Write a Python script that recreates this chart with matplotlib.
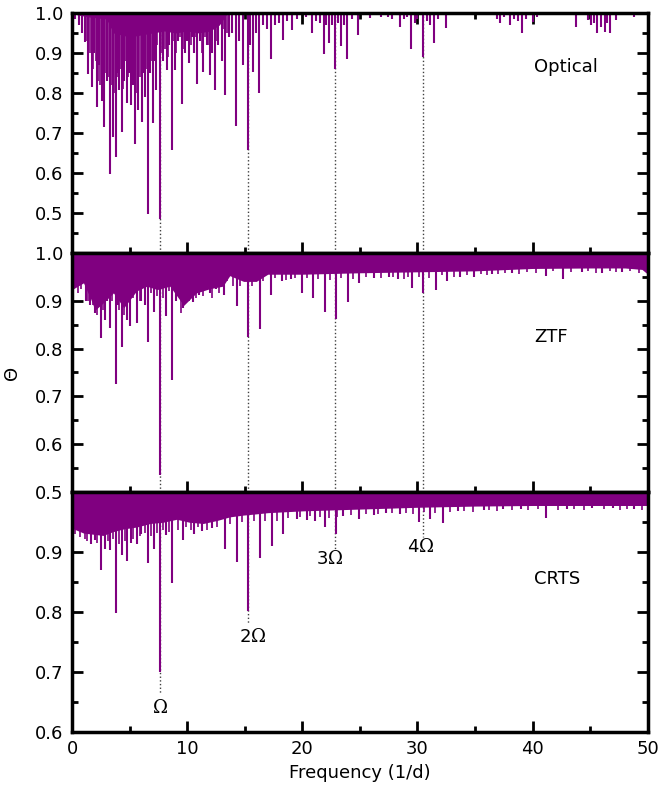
import matplotlib
matplotlib.use("Agg")
import matplotlib.pyplot as plt
from matplotlib.ticker import MultipleLocator

PURPLE = "#800080"

# PDM theta statistic: solid band edge (freq, theta), deep dips and small dips
opt_band_f = [0.0, 0.5, 1.5, 3.0, 3.6, 5.0, 7.0, 8.0, 9.0, 10.0, 11.0, 12.0, 12.8, 13.5, 50.0]
opt_band_t = [1.0, 0.995, 0.99, 0.985, 0.95, 0.94, 0.95, 0.955, 0.95, 0.955, 0.95, 0.955, 0.97, 1.0, 1.0]
opt_dip_f = [0.3, 0.6, 0.9, 1.13, 1.42, 1.71, 1.95, 2.14, 2.35, 2.57, 2.81, 3.05, 3.30, 3.53, 3.79,
             3.95, 4.11, 4.37, 4.55, 4.75, 4.92, 5.09, 5.3, 5.5, 5.76, 6.05, 6.2, 6.34, 6.63, 6.8,
             7.0, 7.15, 7.29, 7.6, 7.93, 8.22, 8.45, 8.65, 8.94, 9.2, 9.52, 9.81, 10.0, 10.18, 10.4,
             10.59, 10.88, 11.1, 11.4, 11.7, 11.98, 12.2, 12.41, 12.7, 13.0, 13.28, 13.6, 13.9, 14.24,
             14.5, 14.87, 15.25, 15.5, 15.74, 16.0, 16.26, 16.6, 16.9, 17.27, 17.6, 18.0, 18.34, 18.7,
             19.07, 19.5, 20.3, 20.8, 21.2, 21.5, 21.85, 22.1, 22.34, 22.6, 22.85, 23.1, 23.35, 23.6,
             23.9, 24.3, 24.8, 25.87, 26.8, 27.4, 27.8, 28.47, 28.8, 29.1, 29.4, 29.8, 30.0, 30.47,
             30.8, 31.1, 31.45, 31.8, 32.45, 33.5, 36.9, 37.15, 37.5, 38.08, 38.4, 38.7, 39.06, 39.4,
             40.05, 40.4, 41.5, 43.75, 44.82, 45.1, 45.3, 45.6, 45.9, 46.27, 46.5, 46.7, 47.2, 48.8]
opt_dip_t = [0.985, 0.97, 0.95, 0.928, 0.848, 0.815, 0.9, 0.765, 0.87, 0.78, 0.714, 0.83, 0.597, 0.689, 0.639,
             0.85, 0.806, 0.702, 0.83, 0.774, 0.85, 0.769, 0.82, 0.673, 0.756, 0.727, 0.85, 0.79, 0.497, 0.85,
             0.724, 0.88, 0.806, 0.484, 0.88, 0.857, 0.92, 0.656, 0.857, 0.93, 0.773, 0.899, 0.93, 0.874, 0.94,
             0.899, 0.823, 0.93, 0.853, 0.92, 0.844, 0.9, 0.806, 0.92, 0.88, 0.794, 0.94, 0.95, 0.716,
             0.93, 0.869, 0.656, 0.92, 0.853, 0.95, 0.80, 0.97, 0.96, 0.886, 0.97, 0.975, 0.932, 0.98,
             0.957, 0.985, 0.99, 0.95, 0.98, 0.975, 0.897, 0.97, 0.924, 0.97, 0.861, 0.975, 0.918, 0.97,
             0.886, 0.985, 0.945, 0.987, 0.99, 0.99, 0.985, 0.964, 0.985, 0.99, 0.911, 0.975, 0.985, 0.891,
             0.98, 0.97, 0.924, 0.985, 0.962, 0.995, 0.985, 0.974, 0.99, 0.97, 0.985, 0.98, 0.949, 0.985,
             0.978, 0.99, 0.995, 0.964, 0.982, 0.97, 0.975, 0.949, 0.965, 0.953, 0.975, 0.949, 0.982, 0.991]
opt_small_f = [1.3, 1.55, 1.85, 2.05, 2.25, 2.45, 2.7, 2.95, 3.2, 3.42, 3.68, 3.87, 4.03, 4.24, 4.47,
               4.65, 4.84, 5.0, 5.2, 5.4, 5.62, 5.9, 6.12, 6.45, 6.72, 6.9, 7.4, 7.75, 8.1, 8.33,
               8.8, 9.05, 9.35, 9.66, 10.3, 10.75, 11.25, 11.55, 11.85, 12.1, 12.55, 13.15, 13.45]
opt_small_t = [0.93, 0.9, 0.86, 0.88, 0.83, 0.82, 0.86, 0.85, 0.84, 0.82, 0.8, 0.87, 0.84, 0.86, 0.81,
               0.88, 0.84, 0.86, 0.82, 0.86, 0.8, 0.84, 0.88, 0.86, 0.9, 0.88, 0.92, 0.9, 0.91, 0.89,
               0.93, 0.9, 0.94, 0.91, 0.92, 0.94, 0.9, 0.94, 0.92, 0.94, 0.93, 0.96, 0.95]

ztf_band_f = [0.0, 1.0, 1.6, 2.0, 2.7, 3.6, 4.5, 5.6, 6.5, 7.4, 8.5, 9.7, 10.8, 12.0, 13.1, 13.7, 14.9,
              16.0, 17.0, 20.0, 25.0, 30.0, 35.0, 40.0, 45.0, 48.0, 49.5, 50.0]
ztf_band_t = [0.923, 0.937, 0.905, 0.88, 0.895, 0.916, 0.885, 0.92, 0.93, 0.923, 0.93, 0.89, 0.916, 0.925,
              0.93, 0.952, 0.94, 0.94, 0.955, 0.955, 0.958, 0.96, 0.962, 0.967, 0.968, 0.968, 0.965, 0.955]
ztf_dip_f = [1.2, 1.6, 2.0, 2.49, 2.86, 3.0, 3.3, 3.82, 4.0, 4.31, 4.75, 5.0, 5.61, 6.0, 6.3, 6.63,
             7.12, 7.625, 8.16, 8.65, 9.0, 9.3, 9.66, 10.0, 10.53, 11.05, 11.98, 12.5, 13.22, 14.29,
             15.3, 16.3, 17.25, 18.2, 19.0, 19.94, 20.95, 21.96, 22.9, 23.93, 24.94, 26.2, 27.5,
             28.3, 29.57, 30.5, 31.6, 32.6, 33.7, 34.9, 36.5, 38.2, 41.2, 42.6, 44.3, 46.0, 47.8]
ztf_dip_t = [0.9, 0.89, 0.874, 0.821, 0.86, 0.9, 0.842, 0.727, 0.89, 0.804, 0.86, 0.846, 0.853, 0.9, 0.89, 0.814,
             0.877, 0.536, 0.867, 0.734, 0.9, 0.91, 0.885, 0.91, 0.898, 0.912, 0.916, 0.925, 0.912, 0.888,
             0.825, 0.84, 0.912, 0.94, 0.945, 0.916, 0.905, 0.877, 0.861, 0.898, 0.937, 0.948, 0.95,
             0.945, 0.926, 0.916, 0.923, 0.94, 0.95, 0.949, 0.955, 0.958, 0.952, 0.945, 0.96, 0.958, 0.96]
ztf_small_f = [0.5, 0.8, 1.4, 1.8, 2.2, 2.7, 3.5, 4.1, 4.5, 5.3, 5.9, 6.9, 7.4, 7.9, 8.4, 9.5, 10.2,
               10.8, 11.4, 12.2, 12.8, 13.5, 14.0, 14.6, 15.6, 16.6, 17.6, 18.6, 19.4, 20.4, 21.4, 22.4,
               23.4, 24.4, 25.5, 26.8, 27.9, 28.8, 29.2, 30.1, 31.0, 32.1, 33.2, 34.3, 35.5, 36.0, 37.0,
               37.6, 38.8, 39.5, 40.3, 41.8, 43.3, 44.8, 45.5, 46.7, 47.2, 48.5, 49.2]
ztf_small_t = [0.915, 0.925, 0.9, 0.89, 0.87, 0.88, 0.9, 0.88, 0.87, 0.905, 0.9, 0.915, 0.91, 0.905, 0.92, 0.875, 0.9,
               0.905, 0.91, 0.905, 0.915, 0.94, 0.93, 0.93, 0.93, 0.94, 0.948, 0.943, 0.948, 0.947, 0.945, 0.942,
               0.948, 0.945, 0.95, 0.947, 0.95, 0.946, 0.95, 0.95, 0.947, 0.953, 0.95, 0.953, 0.956, 0.953, 0.956,
               0.958, 0.955, 0.96, 0.958, 0.961, 0.96, 0.961, 0.958, 0.961, 0.96, 0.961, 0.957]

crts_band_f = [0.0, 1.0, 2.7, 3.5, 4.5, 5.6, 6.8, 7.9, 9.1, 10.2, 11.4, 12.6, 13.7, 14.9, 16.0, 17.0,
               20.0, 25.0, 30.0, 35.0, 40.0, 50.0]
crts_band_t = [0.94, 0.932, 0.928, 0.934, 0.939, 0.942, 0.948, 0.95, 0.955, 0.95, 0.948, 0.953, 0.959,
               0.962, 0.964, 0.966, 0.969, 0.972, 0.975, 0.977, 0.978, 0.978]
crts_dip_f = [1.62, 2.0, 2.49, 2.86, 3.3, 3.82, 4.34, 4.80, 5.1, 5.61, 6.0, 6.63, 7.12, 7.625, 8.13,
              8.65, 9.61, 10.62, 11.3, 12.2, 13.28, 14.29, 15.25, 16.32, 17.33, 18.29, 19.5, 20.37,
              21.1, 21.96, 22.9, 23.5, 24.94, 26.2, 27.3, 28.5, 30.1, 31.08, 32.23, 33.5, 35.8, 37.4,
              39.0, 41.15, 43.0, 45.2, 47.0, 48.8]
crts_dip_t = [0.914, 0.92, 0.871, 0.906, 0.903, 0.799, 0.895, 0.885, 0.915, 0.914, 0.93, 0.882, 0.906, 0.70, 0.928,
              0.848, 0.92, 0.931, 0.935, 0.94, 0.906, 0.884, 0.802, 0.891, 0.91, 0.931, 0.955, 0.953,
              0.952, 0.942, 0.931, 0.96, 0.956, 0.962, 0.965, 0.963, 0.951, 0.956, 0.948, 0.968, 0.97, 0.972,
              0.972, 0.957, 0.972, 0.973, 0.973, 0.972]
crts_small_f = [0.3, 0.7, 1.1, 1.3, 2.2, 3.1, 3.6, 4.1, 4.6, 5.3, 5.9, 6.3, 6.9, 7.4, 7.9, 8.4, 9.2,
                9.9, 10.3, 10.9, 11.7, 12.6, 13.7, 14.8, 15.8, 16.8, 17.8, 18.8, 19.8, 20.7, 21.5, 22.3,
                23.0, 24.2, 25.5, 26.6, 27.8, 29.0, 29.6, 30.6, 31.5, 32.8, 34.0, 34.8, 36.2, 36.9, 38.2,
                39.6, 40.5, 42.2, 43.6, 44.5, 46.2, 47.6, 48.2, 49.5]
crts_small_t = [0.93, 0.926, 0.922, 0.918, 0.916, 0.918, 0.922, 0.913, 0.918, 0.922, 0.927, 0.932, 0.927, 0.932,
                0.937, 0.933, 0.937, 0.942, 0.937, 0.942, 0.937, 0.942, 0.947, 0.95, 0.952, 0.952, 0.952,
                0.957, 0.959, 0.96, 0.959, 0.957, 0.959, 0.962, 0.963, 0.964, 0.965, 0.965, 0.963, 0.967,
                0.965, 0.967, 0.969, 0.967, 0.97, 0.969, 0.971, 0.97, 0.972, 0.971, 0.972, 0.971, 0.972,
                0.971, 0.972, 0.971]

harm_f = [7.625, 15.25, 22.875, 30.5]
harm_labels = [r"$\Omega$", r"2$\Omega$", r"3$\Omega$", r"4$\Omega$"]
harm_label_x = [7.6, 15.7, 22.35, 30.3]
harm_label_y = [0.64, 0.759, 0.889, 0.909]
harm_line_end = [0.665, 0.78, 0.905, 0.925]

panels = [
    ("Optical", opt_band_f, opt_band_t, opt_dip_f, opt_dip_t, opt_small_f, opt_small_t,
     (0.4, 1.0), [0.5, 0.6, 0.7, 0.8, 0.9, 1.0], 0.865),
    ("ZTF", ztf_band_f, ztf_band_t, ztf_dip_f, ztf_dip_t, ztf_small_f, ztf_small_t,
     (0.5, 1.0), [0.5, 0.6, 0.7, 0.8, 0.9, 1.0], 0.825),
    ("CRTS", crts_band_f, crts_band_t, crts_dip_f, crts_dip_t, crts_small_f, crts_small_t,
     (0.6, 1.0), [0.6, 0.7, 0.8, 0.9], 0.855),
]

plt.rcParams["font.size"] = 13
plt.rcParams["mathtext.fontset"] = "dejavuserif"

fig, axes = plt.subplots(3, 1, figsize=(6.63, 7.92), dpi=100, sharex=True)
fig.subplots_adjust(left=0.1086, right=0.977, top=0.9836, bottom=0.0758, hspace=0)

for i, (ax, p) in enumerate(zip(axes, panels)):
    name, bf, bt, df, dt, sf, st, ylim, yt, label_y = p
    ax.fill_between(bf, bt, 1.0, color=PURPLE, lw=0, zorder=3)
    ax.vlines(sf, st, 1.0, color=PURPLE, lw=1.2, zorder=3)
    ax.vlines(df, dt, 1.0, color=PURPLE, lw=1.5, zorder=3)

    if i < 2:
        for hf in harm_f:
            ax.axvline(hf, color="0.25", ls=":", lw=1.0, zorder=1)
    else:
        for hf, lab, lx, ly, le in zip(harm_f, harm_labels, harm_label_x, harm_label_y, harm_line_end):
            ax.plot([hf, hf], [1.0, le], color="0.25", ls=":", lw=1.0, zorder=1)
            ax.text(lx, ly, lab, ha="center", va="center", fontsize=13)

    ax.text(40.1, label_y, name, ha="left", va="center", fontsize=13)

    ax.set_xlim(0, 50)
    ax.set_ylim(*ylim)
    ax.set_yticks(yt)
    ax.yaxis.set_minor_locator(MultipleLocator(0.05))
    ax.xaxis.set_major_locator(MultipleLocator(10))
    ax.xaxis.set_minor_locator(MultipleLocator(5))
    ax.tick_params(which="both", direction="in", top=True, right=True, width=2, labelsize=13, pad=6)
    ax.tick_params(which="major", length=8)
    ax.tick_params(which="minor", length=4)
    for sp in ax.spines.values():
        sp.set_linewidth(2.5)
        sp.set_zorder(5)

axes[1].set_ylabel("Θ", fontsize=13)
axes[1].yaxis.set_label_coords(-0.088, 0.5)
axes[2].set_xlabel("Frequency (1/d)", fontsize=13)

fig.savefig("out.png", dpi=100)
